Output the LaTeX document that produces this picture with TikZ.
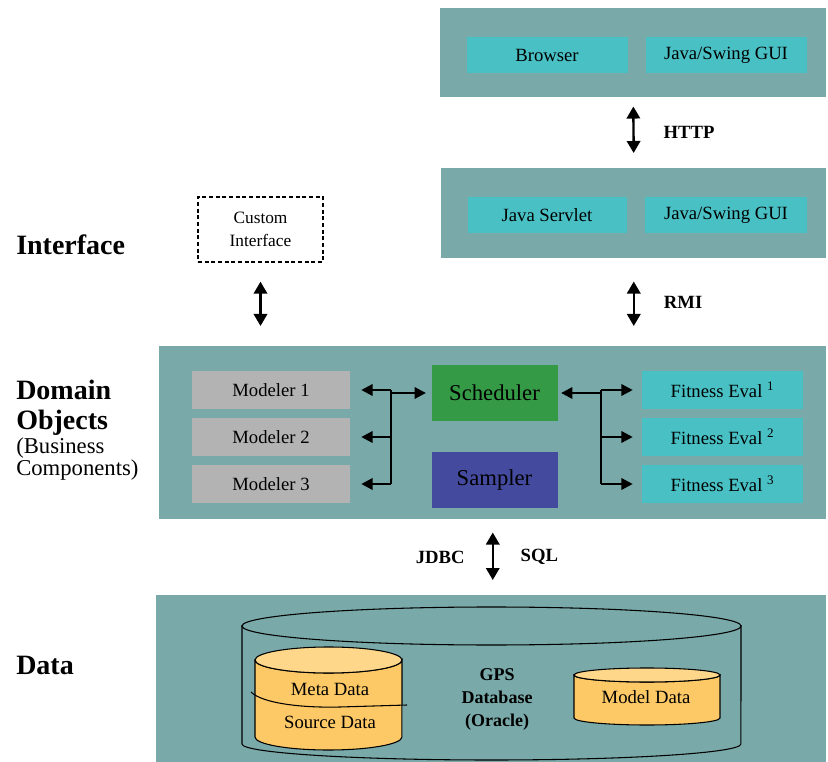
\documentclass[tikz,border=0pt]{standalone}
\usepackage{fontspec}
\setmainfont{Liberation Serif}
\usepackage{tikz}
\usetikzlibrary{positioning}
\usetikzlibrary{arrows.meta}
\definecolor{tierbg}{HTML}{79A9A9}
\definecolor{cyanbox}{HTML}{49C0C4}
\definecolor{greybox}{HTML}{B3B3B3}
\definecolor{schedgreen}{HTML}{349A45}
\definecolor{sampblue}{HTML}{444A9E}
\definecolor{dbbody}{HTML}{FDC966}
\definecolor{dbtop}{HTML}{FFD78A}
\tikzstyle{tier} = [rectangle, fill=tierbg, draw=none, inner sep=0pt, anchor=north west]
\tikzstyle{comp} = [rectangle, fill=cyanbox, text centered, inner sep=0pt, minimum height=27pt, font=\fontsize{14}{16}\selectfont]
\tikzstyle{modeler} = [comp, fill=greybox, minimum width=118.5pt, minimum height=28.5pt]
\tikzstyle{fitness} = [comp, minimum width=120.75pt, minimum height=28.5pt]
\tikzstyle{engine} = [rectangle, text centered, inner sep=0pt, minimum width=94.5pt, minimum height=42pt, font=\fontsize{17}{19}\selectfont]
\tikzstyle{custom} = [rectangle, draw, line width=1pt, dash pattern=on 3pt off 2pt, fill=white, align=center, minimum width=93.75pt, minimum height=48.75pt, font=\fontsize{13}{17.25}\selectfont]
\tikzstyle{layer} = [draw=none, fill=none, anchor=west, inner sep=0pt, align=left, font=\bfseries\fontsize{21}{22.5}\selectfont]
\tikzstyle{sublayer} = [draw=none, fill=none, anchor=west, inner sep=0pt, align=left, font=\fontsize{17}{16.5}\selectfont]
\tikzstyle{proto} = [draw=none, fill=none, inner sep=0pt, font=\bfseries\fontsize{14}{16}\selectfont]
\tikzstyle{dbtext} = [draw=none, fill=none, inner sep=0pt, align=center, font=\fontsize{14}{16}\selectfont]
\tikzstyle{link} = [draw, line width=1.8pt, >={Triangle[width=10pt,length=9pt]}, <->]
\tikzstyle{tap}  = [draw, line width=1.8pt, >={Triangle[width=8.5pt,length=8.5pt]}, ->]
\tikzstyle{bus}  = [draw, line width=1.8pt]
\tikzstyle{dbline} = [draw=black, line width=0.8pt]

\begin{document}
\begin{tikzpicture}[x=0.75pt, y=-0.75pt]
	\useasboundingbox (0,0) rectangle (828,762);

	% tiers
	\node [tier, minimum width=289.5pt, minimum height=66.75pt]  (T1) at (440,8) {};
	\node [tier, minimum width=288.75pt, minimum height=67.5pt]  (T2) at (441,168) {};
	\node [tier, minimum width=500.25pt, minimum height=129.75pt] (T3) at (159,346) {};
	\node [tier, minimum width=502.5pt, minimum height=125.25pt] (T4) at (156,595) {};

	% layer titles
	\node [layer]    (D1) at (16,245) {Interface};
	\node [layer]    (D2) at (16,408) {Domain\\Objects};
	\node [sublayer] (D3) at (16,459) {(Business\\Components)};
	\node [layer]    (D4) at (16,665) {Data};

	% interface nodes
	\node [comp, minimum width=120.75pt]                        (N1) at (547,55) {Browser};
	\node [comp, minimum width=120.75pt, right of=N1, node distance=134.25pt] (N2) {Java/Swing GUI};
	\node [comp, minimum width=119.25pt, below of=N1, node distance=120pt]    (N3) {Java Servlet};
	\node [comp, minimum width=121.5pt, right of=N3, node distance=134.25pt]  (N4) {Java/Swing GUI};
	\node [custom] (CI) at (260.5,229.5) {Custom\\Interface};

	% domain nodes
	\node [modeler]                                      (M1) at (271,390) {Modeler 1};
	\node [modeler, below of=M1, node distance=35.25pt]  (M2) {Modeler 2};
	\node [modeler, below of=M2, node distance=35.25pt]  (M3) {Modeler 3};
	\node [fitness]                                      (F1) at (722.5,390) {Fitness Eval \textsuperscript{1}};
	\node [fitness, below of=F1, node distance=35.25pt]  (F2) {Fitness Eval \textsuperscript{2}};
	\node [fitness, below of=F2, node distance=35.25pt]  (F3) {Fitness Eval \textsuperscript{3}};
	\node [engine, fill=schedgreen]                      (S1) at (494.5,393) {Scheduler};
	\node [engine, fill=sampblue, below of=S1, node distance=65.25pt] (S2) {Sampler};

	% database
	\path [dbline] (242,625) -- (242,744) arc [start angle=180, end angle=360, x radius=187.1pt, y radius=12pt] -- (741,625);
	\path [dbline] (491.5,626) ellipse [x radius=187.1pt, y radius=14.25pt];
	\path [dbline, fill=dbbody] (255,660) -- (255,737) arc [start angle=180, end angle=360, x radius=55.1pt, y radius=9.75pt]
		-- (402,660) arc [start angle=0, end angle=-180, x radius=55.1pt, y radius=9.75pt] -- cycle;
	\path [dbline, fill=dbtop] (328.5,660) ellipse [x radius=55.1pt, y radius=9.75pt];
	\path [dbline] (251,692) .. controls (262,703) and (300,708) .. (340,707) -- (407,705);
	\path [dbline, fill=dbbody] (574,675) -- (574,718) arc [start angle=180, end angle=360, x radius=54.75pt, y radius=5.25pt]
		-- (720,675) arc [start angle=0, end angle=-180, x radius=54.75pt, y radius=5.25pt] -- cycle;
	\path [dbline, fill=dbtop] (647,675) ellipse [x radius=54.75pt, y radius=5.25pt];
	\node [dbtext] (B1) at (330,689) {Meta Data};
	\node [dbtext] (B2) at (330,722) {Source Data};
	\node [dbtext] (B3) at (646,697) {Model Data};
	\node [dbtext, font=\bfseries\fontsize{13.5}{17.25}\selectfont] (B4) at (497,699) {GPS\\Database\\(Oracle)};

	% draw edges
	\path [link, shorten <=6.75pt, shorten >=11.25pt] (T1.south) -- (T2.north)
		node [proto, midway, right=21.75pt] (L1) {HTTP};
	\path [link, shorten <=17.25pt, shorten >=15pt] (T2.south) -- (T2.south |- T3.north)
		node [proto, midway, right=21.75pt] (L2) {RMI};
	\path [link, shorten <=14.25pt, shorten >=15pt] (CI.south) -- (CI.south |- T3.north);
	\path [link, shorten <=9.75pt, shorten >=11.25pt] (T3.south) -- (T3.south |- T4.north)
		node [proto, midway, left=20.25pt] (L3) {JDBC}
		node [proto, midway, right=20pt] (L4) {SQL};

	\coordinate (BL) at (391,390);
	\coordinate (BR) at (601,390);
	\path [bus] (BL |- M1.east) -- (BL |- M3.east);
	\path [tap, shorten >=8.25pt] (BL |- M1.east) -- (M1.east);
	\path [tap, shorten >=8.25pt] (BL |- M2.east) -- (M2.east);
	\path [tap, shorten >=8.25pt] (BL |- M3.east) -- (M3.east);
	\path [tap, shorten >=4pt] (BL |- S1.west) -- (S1.west);

	\path [bus] (BR |- F1.west) -- (BR |- F3.west);
	\path [tap, shorten >=2.5pt] (BR |- S1.east) -- (S1.east);
	\path [tap, shorten >=6.75pt] (BR |- F1.west) -- (F1.west);
	\path [tap, shorten >=6.75pt] (BR |- F2.west) -- (F2.west);
	\path [tap, shorten >=6.75pt] (BR |- F3.west) -- (F3.west);
\end{tikzpicture}
\end{document}
